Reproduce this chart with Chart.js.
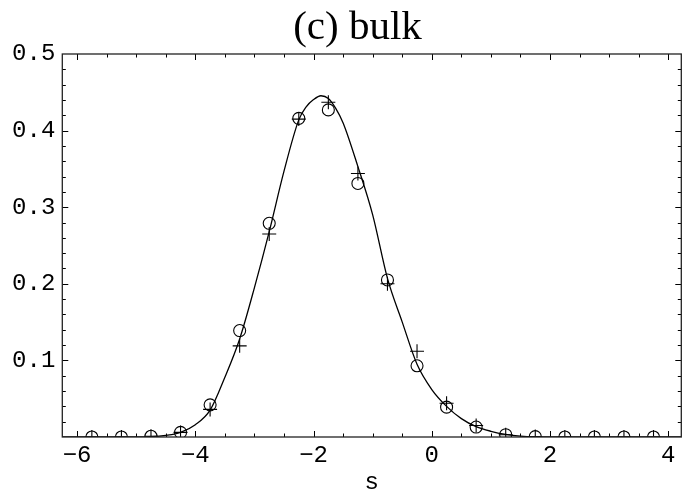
<!DOCTYPE html>
<html>
<head>
<meta charset="utf-8">
<script src="https://cdn.jsdelivr.net/npm/chart.js@4/dist/chart.umd.min.js"></script>
<style>
  html, body { margin: 0; padding: 0; background: #fff; }
  #wrap { width: 683px; height: 497px; position: relative; }
</style>
</head>
<body>
<div id="wrap"><canvas id="c"></canvas></div>
<script>
// (c) bulk: fitted curve plus two sets of sampled points (circles / crosses).

const titleText = '(c) bulk';
const xTitle = 's';

const xTickVals = [-6, -4, -2, 0, 2, 4];
const yTickVals = [0.1, 0.2, 0.3, 0.4, 0.5];

// sample positions shared by both marker series
const sampleS = [-5.75, -5.25, -4.75, -4.25, -3.75, -3.25, -2.75, -2.25, -1.75, -1.25, -0.75,
                 -0.25, 0.25, 0.75, 1.25, 1.75, 2.25, 2.75, 3.25, 3.75];
const circleVals = [0, 0, 0.001, 0.006, 0.042, 0.139, 0.279, 0.416, 0.427, 0.331, 0.205,
                    0.093, 0.039, 0.013, 0.003, 0.0005, 0, 0, 0, 0];
const crossVals = [0, 0, 0.001, 0.006, 0.036, 0.119, 0.265, 0.415, 0.437, 0.344, 0.200,
                   0.112, 0.044, 0.015, 0.003, 0.0005, 0, 0, 0, 0];

// smooth curve
const curveS = [-6.25, -5.0, -4.75, -4.5, -4.25, -4.0, -3.75, -3.5, -3.25, -3.0, -2.75, -2.5, -2.25,
                -2.125, -2.0, -1.875, -1.75, -1.625, -1.5, -1.25, -1.0, -0.75, -0.5, -0.25, 0, 0.25,
                0.5, 0.75, 1.0, 1.25, 1.5, 1.75, 2.0, 4.22];
const curveVals = [0, 0, 0.0003, 0.002, 0.006, 0.016, 0.035, 0.078, 0.128, 0.195, 0.268, 0.347, 0.414,
                   0.431, 0.4405, 0.4455, 0.442, 0.429, 0.410, 0.353, 0.290, 0.207, 0.150, 0.095, 0.062,
                   0.040, 0.024, 0.0135, 0.0075, 0.0035, 0.0012, 0.0002, 0, 0];

const toPts = (xs, ys) => xs.map((x, i) => ({ x, y: ys[i] }));

const monoFont = { family: '"Liberation Mono", "DejaVu Sans Mono", monospace', size: 24 };

// Mathematica-style frame with inward ticks on all four sides
const framePlugin = {
  id: 'frame',
  afterDatasetsDraw(chart) {
    const { ctx, chartArea: a, scales: { x, y } } = chart;
    ctx.save();
    ctx.strokeStyle = '#000';
    ctx.lineWidth = 1;
    ctx.beginPath();
    for (let v = -6; v <= 4.001; v += 0.5) {
      const px = Math.round(x.getPixelForValue(v)) + 0.5;
      const len = Math.abs(v % 2) < 1e-6 ? 6 : 3.5;
      ctx.moveTo(px, a.bottom); ctx.lineTo(px, a.bottom - len);
      ctx.moveTo(px, a.top); ctx.lineTo(px, a.top + len);
    }
    for (let v = 0.02; v < 0.5; v += 0.02) {
      const py = Math.round(y.getPixelForValue(v)) + 0.5;
      const major = Math.abs(v * 10 - Math.round(v * 10)) < 1e-6;
      const len = major ? 6 : 3.5;
      ctx.moveTo(a.left, py); ctx.lineTo(a.left + len, py);
      ctx.moveTo(a.right, py); ctx.lineTo(a.right - len, py);
    }
    ctx.stroke();
    ctx.strokeStyle = '#222';
    ctx.lineWidth = 1.3;
    ctx.strokeRect(a.left, a.top, a.right - a.left, a.bottom - a.top);
    ctx.restore();
  },
};

const titlePlugin = {
  id: 'ctitle',
  afterDraw(chart) {
    const ctx = chart.ctx;
    ctx.save();
    ctx.font = '41px "Liberation Serif", "DejaVu Serif", serif';
    ctx.fillStyle = '#000';
    ctx.textAlign = 'center';
    ctx.textBaseline = 'alphabetic';
    ctx.fillText(titleText, 357.5, 39);
    ctx.restore();
  },
};

new Chart(document.getElementById('c'), {
  type: 'scatter',
  data: {
    datasets: [
      {
        label: 'curve', data: toPts(curveS, curveVals), showLine: true,
        borderColor: '#000', borderWidth: 1.3, pointRadius: 0,
        cubicInterpolationMode: 'monotone', fill: false, clip: 0, order: 3,
      },
      {
        label: 'circles', data: toPts(sampleS, circleVals),
        pointStyle: 'circle', pointRadius: 6, pointBorderWidth: 1.1,
        pointBorderColor: '#000', pointBackgroundColor: 'rgba(0,0,0,0)', clip: 0, order: 2,
      },
      {
        label: 'crosses', data: toPts(sampleS, crossVals),
        pointStyle: 'cross', pointRadius: 7, pointBorderWidth: 1.1,
        pointBorderColor: '#000', clip: 0, order: 1,
      },
    ],
  },
  options: {
    responsive: true, maintainAspectRatio: false, animation: false,
    layout: { autoPadding: false, padding: { top: 54, right: 1.7, left: 0, bottom: 0 } },
    scales: {
      x: {
        type: 'linear', min: -6.25, max: 4.22,
        grid: { display: false, drawTicks: false }, border: { display: false },
        afterBuildTicks: s => { s.ticks = xTickVals.map(v => ({ value: v })); },
        afterFit: s => { s.height = 60; },
        ticks: {
          color: '#000', font: monoFont, padding: 4, maxRotation: 0,
          callback: v => (v < 0 ? '\u2212' + Math.abs(v) : String(v)),
        },
        title: { display: true, text: xTitle, color: '#000', font: monoFont, padding: { top: 0, bottom: 0 } },
      },
      y: {
        min: 0, max: 0.5,
        grid: { display: false, drawTicks: false }, border: { display: false },
        afterBuildTicks: s => { s.ticks = yTickVals.map(v => ({ value: v })); },
        afterFit: s => { s.width = 62.3; },
        ticks: { color: '#000', font: monoFont, padding: 7, callback: v => v.toFixed(1) },
      },
    },
    plugins: {
      legend: { display: false },
      tooltip: { enabled: false },
      title: { display: false },
    },
  },
  plugins: [framePlugin, titlePlugin],
});
</script>
</body>
</html>
